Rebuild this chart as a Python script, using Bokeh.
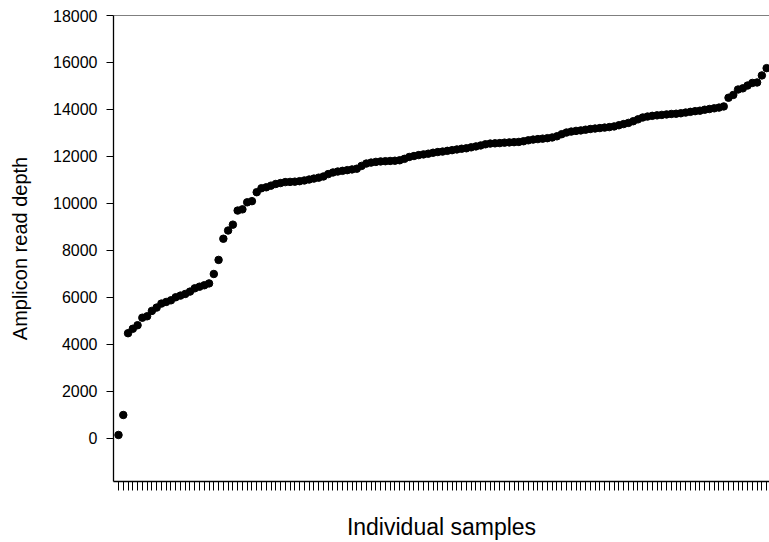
from bokeh.plotting import figure
from bokeh.models import Range1d, FixedTicker, Span
from bokeh.embed import file_html
from bokeh.resources import INLINE

# Amplicon read depth per individual sample (sorted ascending)
read_depth = [
    150, 1000, 4480, 4670, 4820, 5140, 5200, 5430, 5570, 5740,
    5810, 5880, 6010, 6080, 6150, 6250, 6390, 6460, 6520, 6600,
    7000, 7600, 8500, 8850, 9100, 9700, 9750, 10050, 10100, 10480,
    10650, 10690, 10760, 10830, 10870, 10910, 10920, 10930, 10950, 10980,
    11020, 11060, 11100, 11150, 11250, 11320, 11360, 11390, 11420, 11450,
    11480, 11600, 11700, 11740, 11770, 11790, 11800, 11810, 11820, 11840,
    11900, 11980, 12020, 12060, 12090, 12120, 12160, 12190, 12210, 12240,
    12270, 12300, 12330, 12350, 12390, 12430, 12470, 12520, 12550, 12560,
    12570, 12590, 12600, 12610, 12620, 12650, 12690, 12720, 12740, 12760,
    12780, 12810, 12860, 12950, 13020, 13060, 13090, 13110, 13140, 13170,
    13190, 13210, 13230, 13250, 13280, 13330, 13380, 13430, 13500, 13580,
    13660, 13700, 13730, 13750, 13770, 13790, 13810, 13820, 13840, 13870,
    13900, 13930, 13950, 13990, 14020, 14050, 14080, 14130, 14500, 14620,
    14850, 14900, 15020, 15130, 15150, 15450, 15760,
]
samples = list(range(1, len(read_depth) + 1))
y_ticks = [0, 2000, 4000, 6000, 8000, 10000, 12000, 14000, 16000, 18000]
x_label = "Individual samples"
y_label = "Amplicon read depth"

FONT = "Liberation Sans"

p = figure(width=769, height=542, output_backend="svg", toolbar_location=None,
           x_range=Range1d(-0.05, 137.6), y_range=Range1d(-1830, 18000),
           min_border_left=113, min_border_right=0, min_border_top=15,
           min_border_bottom=61)
p.outline_line_color = None
p.grid.visible = False
p.background_fill_color = "white"
p.border_fill_color = "white"

p.scatter(samples, read_depth, size=7.5, color="black", line_color="black")

p.add_layout(Span(location=18000, dimension="width", line_color="black", line_width=1.2))

yax = p.yaxis[0]
yax.ticker = FixedTicker(ticks=y_ticks)
yax.minor_tick_line_color = None
yax.major_tick_out = 7
yax.major_tick_in = 0
yax.major_label_standoff = 9
yax.major_label_text_font = FONT
yax.major_label_text_font_size = "16px"
yax.major_label_text_color = "black"
yax.axis_line_width = 1.3
yax.axis_label = y_label
yax.axis_label_text_font = FONT
yax.axis_label_text_font_style = "normal"
yax.axis_label_text_font_size = "20px"
yax.axis_label_text_color = "black"
yax.axis_label_standoff = 19

xax = p.xaxis[0]
xax.ticker = FixedTicker(ticks=samples)
xax.minor_tick_line_color = None
xax.major_tick_out = 9
xax.major_tick_in = 0
xax.major_label_text_font_size = "1px"
xax.major_label_text_color = None
xax.major_label_standoff = 0
xax.axis_line_width = 1.3
xax.axis_label = x_label
xax.axis_label_text_font = FONT
xax.axis_label_text_font_style = "normal"
xax.axis_label_text_font_size = "23px"
xax.axis_label_text_color = "black"
xax.axis_label_standoff = 23

open("out.html", "w").write(file_html(p, INLINE))
